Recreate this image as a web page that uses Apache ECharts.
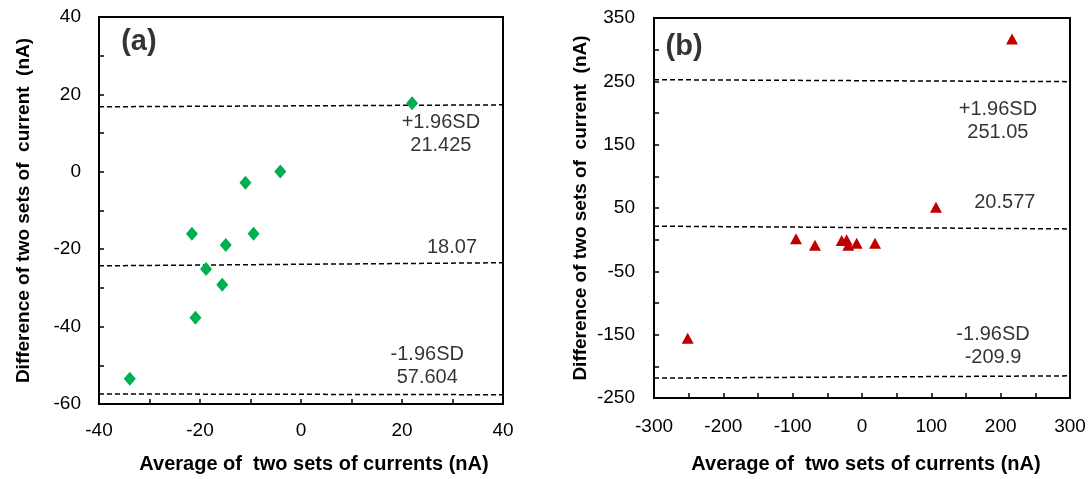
<!DOCTYPE html>
<html><head><meta charset="utf-8">
<script src="https://cdn.jsdelivr.net/npm/echarts@6/dist/echarts.min.js"></script>
<style>html,body{margin:0;padding:0;background:#fff}#c{width:1092px;height:479px}</style>
</head><body><div id="c"></div>
<script>
// Panel (a) data
const ptsA = [[22,17.7],[-4.1,0.1],[-11.0,-2.8],[-21.6,-16.0],[-9.4,-16.0],[-14.9,-18.9],[-18.8,-25.1],[-15.6,-29.2],[-20.9,-37.7],[-33.9,-53.5]];
const upperA = [[-40,16.8],[40,17.3]];
const meanA  = [[-40,-24.3],[40,-23.5]];
const lowerA = [[-40,-57.4],[40,-57.6]];
const labelsA = [
  {value:[27.7,9.7], text:'+1.96SD\n21.425'},
  {value:[29.9,-19.6], text:'18.07'},
  {value:[25.0,-50.1], text:'-1.96SD\n57.604'},
  {value:[-32.1,33.6], text:'(a)', bold:true}
];
// Panel (b) data
const ptsB = [[216.4,317],[106.7,51],[-95.2,1.3],[-67.8,-9],[-29.3,-1.3],[-22.2,-0.2],[-19.8,-9],[-7.7,-5.5],[18.8,-5.5],[-251.4,-155.7]];
const upperB = [[-300,252.6],[300,249.5]];
const meanB  = [[-300,21.3],[300,17]];
const lowerB = [[-300,-218.6],[300,-215]];
const labelsB = [
  {value:[196,186.7], text:'+1.96SD\n251.05'},
  {value:[206,59.4], text:'20.577'},
  {value:[189,-167.5], text:'-1.96SD\n-209.9'},
  {value:[-256.7,304.5], text:'(b)', bold:true}
];
const xTitle = 'Average of  two sets of currents (nA)';
const yTitle = 'Difference of two sets of  current  (nA)';

const FONT = 'Liberation Sans, Arial, sans-serif';
function axisCommon(min,max,interval,step,margin){
  return {
    type:'value', min:min, max:max, interval:interval,
    axisLine:{show:true,onZero:false,lineStyle:{color:'#000',width:2}},
    axisTick:{show:true,inside:true,length:5,lineStyle:{color:'#000',width:1.5}},
    splitLine:{show:false},
    axisLabel:{color:'#000',fontFamily:FONT,fontSize:19,margin:margin,
      formatter:v=>(Math.round(v-min)%step===0?String(v):'')},
  };
}
const dash = {color:'#000',width:1.5,type:[5,3]};
function lineSeries(data,xi){return {type:'line',xAxisIndex:xi,yAxisIndex:xi,data:data,symbol:'none',lineStyle:dash,silent:true,z:2};}
function labelSeries(data,xi){
  return {type:'scatter',xAxisIndex:xi,yAxisIndex:xi,symbolSize:0,silent:true,z:5,
    data:data.map(d=>({value:d.value,label:{show:true,position:'inside',formatter:d.text,
      fontFamily:FONT,fontSize:d.bold?29:20,fontWeight:d.bold?'bold':'normal',color:'#000',textBorderWidth:0,lineHeight:d.bold?32:23,align:'center',verticalAlign:'middle'}}))};
}
const chart = echarts.init(document.getElementById('c'),null,{renderer:'canvas'});
const titleStyle = (sz,pad)=>({fontFamily:FONT,fontSize:sz,fontWeight:'bold',color:'#000',padding:pad});
const xA = axisCommon(-40,40,10,20,17);
Object.assign(xA,{name:xTitle,nameLocation:'middle',nameGap:50,nameTextStyle:titleStyle(20,[0,0,0,26])});
const yA = axisCommon(-60,40,10,20,18);
Object.assign(yA,{name:yTitle,nameLocation:'middle',nameGap:66,nameTextStyle:titleStyle(19,[0,0,0,0])});
const xB = axisCommon(-300,300,50,100,19);
Object.assign(xB,{gridIndex:1,name:xTitle,nameLocation:'middle',nameGap:56,nameTextStyle:titleStyle(20,[0,0,0,8])});
const yB = axisCommon(-250,350,50,100,19);
Object.assign(yB,{gridIndex:1,name:yTitle,nameLocation:'middle',nameGap:64,nameTextStyle:titleStyle(19,[0,0,0,0])});

chart.setOption({
  animation:false,
  backgroundColor:'#fff',
  grid:[
    {left:99,top:17,width:404,height:387,show:true,borderColor:'#000',borderWidth:2,backgroundColor:'transparent'},
    {left:654,top:18,width:416,height:382,show:true,borderColor:'#000',borderWidth:2,backgroundColor:'transparent'}
  ],
  xAxis:[xA,xB],
  yAxis:[yA,yB],
  series:[
    lineSeries(upperA,0),lineSeries(meanA,0),lineSeries(lowerA,0),
    {type:'scatter',xAxisIndex:0,yAxisIndex:0,data:ptsA,symbol:'diamond',symbolSize:[12,14],itemStyle:{color:'#00B050',opacity:1},z:4},
    labelSeries(labelsA,0),
    lineSeries(upperB,1),lineSeries(meanB,1),lineSeries(lowerB,1),
    {type:'scatter',xAxisIndex:1,yAxisIndex:1,data:ptsB,symbol:'triangle',symbolSize:[12,11],itemStyle:{color:'#C00000',opacity:1},z:4},
    labelSeries(labelsB,1)
  ]
});
</script></body></html>
